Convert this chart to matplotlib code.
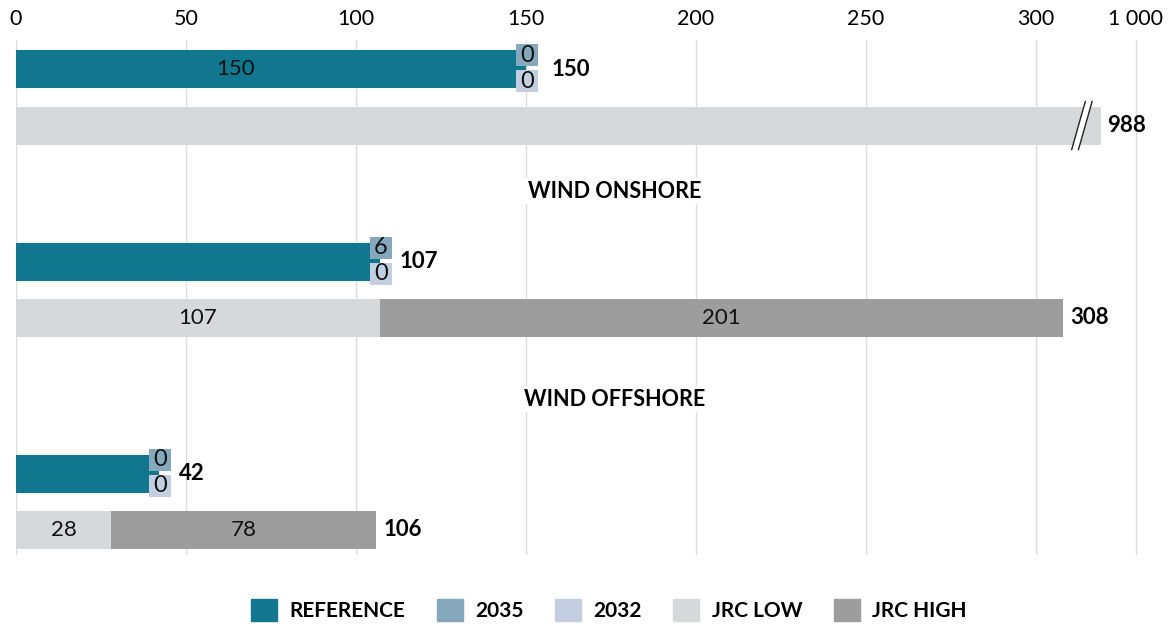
import matplotlib.pyplot as plt
from matplotlib.patches import Patch, Polygon

plt.rcParams['font.family'] = ['Lato', 'DejaVu Sans']

# data
categories = ['', 'WIND ONSHORE', 'WIND OFFSHORE']
reference = [150, 107, 42]
y2035 = [0, 6, 0]
y2032 = [0, 0, 0]
jrc_low = [988, 107, 28]
jrc_high = [0, 201, 78]
ref_totals = [150, 107, 42]
jrc_totals = [988, 308, 106]
inner_ref_label = [True, False, False]
tick_vals = [0, 50, 100, 150, 200, 250, 300]
tick_labels = ['0', '50', '100', '150', '200', '250', '300', '1 000']

# colours
c_ref = '#10778f'
c_35 = '#86a8bc'
c_32 = '#c3cfe0'
c_low = '#d7d8da'
c_high = '#9d9d9d'

# layout (pixel-like y units)
ref_y = [69, 262, 474]
jrc_y = [125.5, 318, 530]
cat_y = [None, 191, 399]
bar_h = 38
xmax = 340
break_tick = 329.4   # where "1 000" sits
break_show = 319     # shown length of a broken bar
px = xmax / 1156.0   # data units per pixel
fs = 16

def shown(v):
    return v if v <= 320 else break_show

fig = plt.figure(figsize=(11.73, 6.25), dpi=100)
ax = fig.add_axes([16 / 1173, 70 / 625, 1156 / 1173, 515 / 625])
ax.set_xlim(0, xmax)
ax.set_ylim(555, 40)

for s in ax.spines.values():
    s.set_visible(False)
ax.set_yticks([])
ax.set_xticks(tick_vals + [break_tick])
ax.set_xticklabels(tick_labels, fontsize=15.5)
ax.xaxis.tick_top()
ax.tick_params(axis='x', length=0, pad=8)
ax.grid(axis='x', color='#dddddd', linewidth=1)
ax.set_axisbelow(True)

for i in range(len(categories)):
    # reference bar
    ax.barh(ref_y[i], reference[i], height=bar_h, color=c_ref)
    if inner_ref_label[i]:
        ax.text(reference[i] * 0.43, ref_y[i], str(reference[i]), ha='center',
                va='center', fontsize=fs, color='#111111')
    # 2035 / 2032 label boxes at the end of the reference bar
    bx = reference[i] - 10 * px
    ax.barh(ref_y[i] - 14, 22 * px, left=bx, height=22, color=c_35)
    ax.barh(ref_y[i] + 12, 22 * px, left=bx, height=22, color=c_32)
    ax.text(bx + 11 * px, ref_y[i] - 14, str(y2035[i]), ha='center',
            va='center', fontsize=fs + 1, color='#111111')
    ax.text(bx + 11 * px, ref_y[i] + 12, str(y2032[i]), ha='center',
            va='center', fontsize=fs + 1, color='#111111')
    gap = 26 if i == 0 else 20
    ax.text(reference[i] + gap * px, ref_y[i], str(ref_totals[i]),
            ha='left', va='center', fontsize=fs, fontweight='bold')

    # JRC bars
    lo = shown(jrc_low[i])
    ax.barh(jrc_y[i], lo, height=bar_h, color=c_low)
    if jrc_high[i] > 0:
        ax.barh(jrc_y[i], jrc_high[i], left=lo, height=bar_h, color=c_high)
        ax.text(lo / 2, jrc_y[i], str(jrc_low[i]), ha='center', va='center',
                fontsize=fs, color='#111111')
        ax.text(lo + jrc_high[i] / 2, jrc_y[i], str(jrc_high[i]),
                ha='center', va='center', fontsize=fs, color='#111111')
    end = lo + jrc_high[i]
    ax.text(end + 2, jrc_y[i], str(jrc_totals[i]), ha='left', va='center',
            fontsize=fs, fontweight='bold')

    # axis break marks
    if jrc_low[i] > 320:
        xc = end - 5.5
        y0, y1 = jrc_y[i] + 24, jrc_y[i] - 24
        d = 4.0 / 2
        g = 1.0
        poly = Polygon([(xc - d - g, y0), (xc + d - g, y1), (xc + d + g, y1),
                        (xc - d + g, y0)], closed=True, facecolor='white',
                       edgecolor='none', zorder=3)
        ax.add_patch(poly)
        ax.plot([xc - d - g, xc + d - g], [y0, y1], color='#222222', lw=1, zorder=4)
        ax.plot([xc - d + g, xc + d + g], [y0, y1], color='#222222', lw=1, zorder=4)

    if categories[i]:
        ax.text(176, cat_y[i], categories[i], ha='center', va='center',
                fontsize=15.5, fontweight='bold',
                bbox=dict(facecolor='white', edgecolor='none', pad=2))

handles = [Patch(color=c_ref, label='REFERENCE'),
           Patch(color=c_35, label='2035'),
           Patch(color=c_32, label='2032'),
           Patch(color=c_low, label='JRC LOW'),
           Patch(color=c_high, label='JRC HIGH')]
fig.legend(handles=handles, loc='center', bbox_to_anchor=(0.519, 0.024),
           ncol=5, frameon=False, handlelength=1.25, handleheight=1.25,
           columnspacing=1.5, handletextpad=0.6,
           prop={'weight': 'bold', 'size': 15})

fig.savefig('out.png', dpi=100)
